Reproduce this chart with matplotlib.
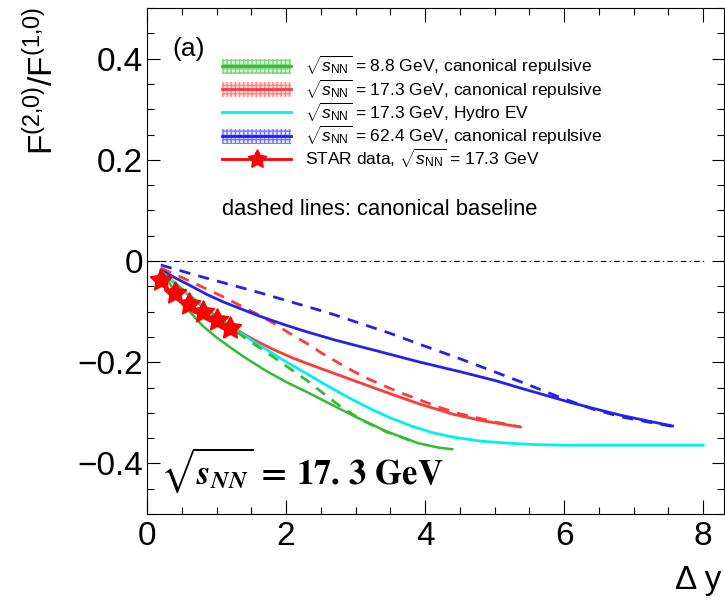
import matplotlib.pyplot as plt
from matplotlib.lines import Line2D
from matplotlib.patches import Rectangle
from matplotlib.ticker import MultipleLocator, FuncFormatter

plt.rcParams['font.family'] = ['Liberation Sans', 'DejaVu Sans']
plt.rcParams['mathtext.fontset'] = 'custom'
plt.rcParams['mathtext.rm'] = 'Liberation Sans'
plt.rcParams['mathtext.it'] = 'Liberation Sans:italic'
plt.rcParams['mathtext.bf'] = 'Liberation Sans:bold'

# 8.8 GeV, canonical repulsive (сплошная / пунктир - канонический базис)
x_green = [0.2, 0.4, 0.6, 0.8, 1.0, 1.2, 1.4, 1.7, 2.0, 2.3, 2.6, 3.0, 3.45, 3.9, 4.2, 4.39]
y_green = [-0.018, -0.060, -0.098, -0.128, -0.151, -0.171, -0.190, -0.216, -0.239, -0.259,
           -0.280, -0.308, -0.337, -0.360, -0.369, -0.372]
x_green_base = [0.2, 0.4, 0.6, 0.86, 1.2, 1.44, 1.82, 2.1, 2.3, 2.54, 2.78, 3.07, 3.45, 3.9]
y_green_base = [-0.020, -0.044, -0.068, -0.097, -0.131, -0.155, -0.190, -0.217, -0.236,
                -0.262, -0.287, -0.313, -0.338, -0.360]

# 17.3 GeV, canonical repulsive
x_red = [0.2, 0.4, 0.6, 0.8, 1.0, 1.2, 1.4, 1.6, 1.82, 2.1, 2.49, 2.97, 3.45, 3.93, 4.41,
         4.8, 5.1, 5.37]
y_red = [-0.020, -0.044, -0.068, -0.090, -0.110, -0.128, -0.145, -0.160, -0.175, -0.192,
         -0.212, -0.236, -0.260, -0.283, -0.303, -0.315, -0.322, -0.328]
x_red_base = [0.2, 0.62, 1.1, 1.34, 1.6, 1.82, 2.1, 2.3, 2.49, 2.75, 2.97, 3.2, 3.45, 3.7,
              3.93, 4.22, 4.5, 5.0, 5.37]
y_red_base = [-0.014, -0.040, -0.071, -0.088, -0.106, -0.123, -0.147, -0.163, -0.180,
              -0.201, -0.218, -0.234, -0.249, -0.263, -0.275, -0.290, -0.302, -0.318, -0.328]

# 17.3 GeV, Hydro EV
x_cyan = [0.2, 0.4, 0.6, 0.86, 1.0, 1.2, 1.4, 1.6, 1.8, 2.0, 2.3, 2.6, 2.9, 3.2, 3.5, 3.8,
          4.1, 4.4, 4.8, 5.2, 5.6, 6.0, 7.0, 8.0]
y_cyan = [-0.020, -0.043, -0.066, -0.094, -0.110, -0.129, -0.147, -0.165, -0.182, -0.199,
          -0.223, -0.247, -0.270, -0.291, -0.310, -0.326, -0.339, -0.348, -0.356, -0.360,
          -0.363, -0.364, -0.364, -0.364]

# 62.4 GeV, canonical repulsive
x_blue = [0.2, 0.4, 0.6, 0.86, 1.1, 1.34, 1.6, 2.0, 2.3, 2.7, 3.26, 3.93, 4.51, 5.0, 5.37,
          5.8, 6.1, 6.5, 6.82, 7.2, 7.56]
y_blue = [-0.018, -0.033, -0.047, -0.066, -0.081, -0.094, -0.108, -0.127, -0.140, -0.156,
          -0.176, -0.200, -0.219, -0.236, -0.251, -0.268, -0.280, -0.294, -0.305, -0.316,
          -0.326]
x_blue_base = [0.2, 0.5, 0.86, 1.34, 1.63, 2.2, 2.6, 2.93, 3.5, 3.93, 4.5, 5.0, 5.4, 5.95,
               6.4, 6.82, 7.2, 7.56]
y_blue_base = [-0.008, -0.020, -0.034, -0.052, -0.063, -0.086, -0.102, -0.117, -0.143,
               -0.165, -0.193, -0.219, -0.240, -0.270, -0.292, -0.308, -0.318, -0.327]

# STAR data
x_star = [0.2, 0.4, 0.6, 0.8, 1.0, 1.2]
y_star = [-0.037, -0.064, -0.084, -0.101, -0.117, -0.133]

c_green = '#33bb33'
c_red = '#ff3a3a'
c_cyan = '#00f0f0'
c_blue = '#2222ee'

fig = plt.figure(figsize=(7.25, 6.01), dpi=100)
ax = fig.add_axes([147 / 725, 87 / 601, 577 / 725, 506 / 601])

dash = (0, (4, 3))
ax.plot([0, 8.05], [0, 0], color='black', lw=0.8, linestyle=(0, (5, 3, 1, 3)))
ax.plot(x_blue_base, y_blue_base, color=c_blue, lw=2, linestyle=dash)
ax.plot(x_red_base, y_red_base, color=c_red, lw=2, linestyle=dash)
ax.plot(x_blue, y_blue, color=c_blue, lw=2)
ax.plot(x_red, y_red, color=c_red, lw=2)
ax.plot(x_cyan, y_cyan, color=c_cyan, lw=2)
ax.plot(x_green_base, y_green_base, color=c_green, lw=2, linestyle=dash)
ax.plot(x_green, y_green, color=c_green, lw=1.8)
ax.plot(x_star, y_star, linestyle='none', marker=(5, 1, 0), color='red', ms=17)

ax.set_xlim(0, 8.3)
ax.set_ylim(-0.5, 0.5)
ax.xaxis.set_major_locator(MultipleLocator(2))
ax.xaxis.set_minor_locator(MultipleLocator(0.5))
ax.yaxis.set_major_locator(MultipleLocator(0.2))
ax.yaxis.set_minor_locator(MultipleLocator(0.05))
ax.yaxis.set_major_formatter(FuncFormatter(
    lambda v, p: '0' if abs(v) < 1e-9 else f'{v:.1f}'.replace('-', '\u2212')))
ax.tick_params(which='both', direction='in', top=True, right=True, labelsize=24, width=0.8)
ax.tick_params(axis='x', which='major', length=10, pad=5)
ax.tick_params(axis='x', which='minor', length=5)
ax.tick_params(axis='y', which='major', length=9, pad=3)
ax.tick_params(axis='y', which='minor', length=5)
for s in ax.spines.values():
    s.set_linewidth(0.8)

fig.text(42 / 725, 1 - 7 / 601, r'F$^{(2{,}0)}$/F$^{(1{,}0)}$', rotation=90, ha='center',
         va='top', fontsize=24)
fig.text(0.995, 1 - 580 / 601, 'Δ y', ha='right', va='center', fontsize=24)

ax.text(0.37, 0.418, '(a)', fontsize=19, va='center')
ax.text(3.35, 0.101, 'dashed lines: canonical baseline', fontsize=15.8, ha='center',
        va='center')
ax.text(0.18, -0.414, r'$\sqrt{\mathbfit{s_{NN}}}\,\mathbf{=\,17.\,3\ GeV}$', fontsize=25,
        va='center', math_fontfamily='stix')


# Обработчики легенды: полоса с штриховкой + линия
def band(col, light):
    p = Rectangle((0, 0), 1, 1, facecolor=light, edgecolor=col, hatch='++++', lw=0,
                  alpha=0.55)
    l = Line2D([], [], color=col, lw=2)
    return (p, l)


handles = [
    band(c_green, '#c8f0c8'),
    band(c_red, '#ffd0d0'),
    Line2D([], [], color=c_cyan, lw=2),
    band(c_blue, '#d0d0ff'),
    Line2D([], [], color='red', lw=2, marker=(5, 1, 0), ms=14),
]
labels = [
    r'$\sqrt{s_{\rm NN}}$ = 8.8 GeV, canonical repulsive',
    r'$\sqrt{s_{\rm NN}}$ = 17.3 GeV, canonical repulsive',
    r'$\sqrt{s_{\rm NN}}$ = 17.3 GeV, Hydro EV',
    r'$\sqrt{s_{\rm NN}}$ = 62.4 GeV, canonical repulsive',
    r'STAR data, $\sqrt{s_{\rm NN}}$ = 17.3 GeV',
]
ax.legend(handles, labels, loc='upper left', bbox_to_anchor=((222 - 147) / 577, (514 - 54) / 506),
          frameon=False, fontsize=12.5, borderpad=0, borderaxespad=0, handlelength=4.0,
          handleheight=0.95, handletextpad=0.8, labelspacing=0.0)

plt.savefig('out.png', dpi=100)
